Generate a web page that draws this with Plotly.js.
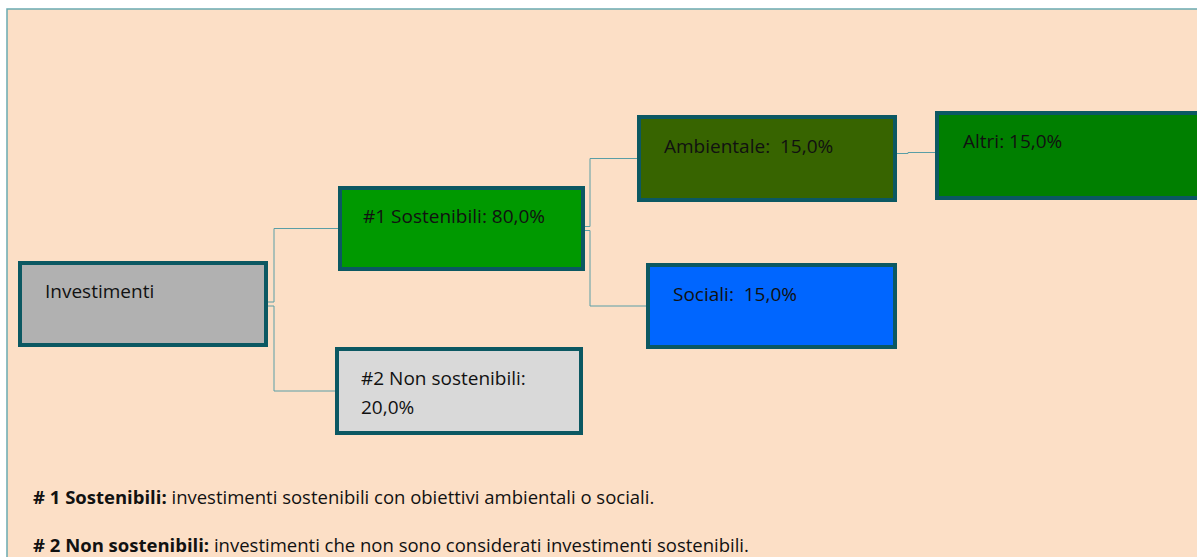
<!DOCTYPE html>
<html>
<head>
<meta charset="utf-8">
<script src="https://cdn.plot.ly/plotly-3.0.1.min.js"></script>
<style>
  html, body { margin: 0; padding: 0; background: #ffffff; }
  #chart { width: 1197px; height: 557px; }
</style>
</head>
<body>
<div id="chart"></div>
<script>
document.addEventListener('DOMContentLoaded', () => {

    // --- Data ---
    const nodeNames = ['Investimenti', '#1 Sostenibili:', '#2 Non sostenibili:', 'Ambientale: ', 'Sociali: ', 'Altri:'];
    const nodeValues = [null, 80.0, 20.0, 15.0, 15.0, 15.0];
    const nodeParents = [-1, 0, 0, 1, 1, 3];
    const noteTitles = ['# 1 Sostenibili:', '# 2 Non sostenibili:'];
    const noteTexts = [
        'investimenti sostenibili con obiettivi ambientali o sociali.',
        'investimenti che non sono considerati investimenti sostenibili.'
    ];

    // --- Layout of the boxes (pixel space) ---
    const boxLeft   = [20, 340, 337, 639, 648, 937];
    const boxRight  = [266, 583, 581, 895, 895, 1199];
    const boxTop    = [263, 188, 349, 117, 265, 113];
    const boxBottom = [345, 269, 433, 200, 347, 198];
    const boxFill   = ['#b1b1b1', '#009900', '#d9d9d9', '#376400', '#0066ff', '#007f00'];
    const textX     = [43, 361, 359, 662, 671, 961];
    const textY     = [291, 216, 378, 146, 294, 141];
    const elbowX    = [null, 274, 274, 590, 590, 908];

    const borderColor = '#0b5862';
    const lineColor = '#5a9ea6';
    const fontFamily = '"Open Sans", Lato, sans-serif';

    const fmt = v => v.toFixed(1).replace('.', ',') + '%';

    const shapes = [];
    const annotations = [];

    // outer frame
    shapes.push({
        type: 'rect', xref: 'x', yref: 'y',
        x0: 7, x1: 1210, y0: 9, y1: 570,
        fillcolor: '#fcdfc6', line: { color: '#6aabb1', width: 1.5 }, layer: 'below'
    });

    // connectors
    nodeParents.forEach((p, i) => {
        if (p < 0) return;
        const up = (i === 1 || i === 3);
        const ys = (boxTop[p] + boxBottom[p]) / 2 + (i === 5 ? -5 : (up ? -2 : 2));
        const yc = (boxTop[i] + boxBottom[i]) / 2 - (i === 5 ? 3 : 0);
        const ex = elbowX[i];
        const path = `M ${boxRight[p]} ${ys} L ${ex} ${ys} L ${ex} ${yc} L ${boxLeft[i]} ${yc}`;
        shapes.push({
            type: 'path', xref: 'x', yref: 'y', path: path,
            line: { color: lineColor, width: 1 }, layer: 'below'
        });
    });

    // boxes
    nodeNames.forEach((name, i) => {
        shapes.push({
            type: 'rect', xref: 'x', yref: 'y',
            x0: boxLeft[i], x1: boxRight[i], y0: boxTop[i], y1: boxBottom[i],
            fillcolor: boxFill[i], line: { color: borderColor, width: 4 }
        });
        const lines = [name];
        if (nodeValues[i] !== null) {
            if (i === 2) lines.push(fmt(nodeValues[i]));
            else lines[0] += ' ' + fmt(nodeValues[i]);
        }
        lines.forEach((ln, k) => {
            annotations.push({
                x: textX[i], y: textY[i] + k * 29, xref: 'x', yref: 'y',
                text: ln, showarrow: false,
                xanchor: 'left', yanchor: 'middle', align: 'left',
                font: { family: fontFamily, size: 19, color: '#111111' }
            });
        });
    });

    // footnotes
    const noteY = [496, 544];
    noteTitles.forEach((t, i) => {
        annotations.push({
            x: 31, y: noteY[i], xref: 'x', yref: 'y',
            text: '<b>' + t + '</b> ' + noteTexts[i], showarrow: false,
            xanchor: 'left', yanchor: 'middle', align: 'left',
            font: { family: fontFamily, size: 18.5, color: '#111111' }
        });
    });

    const layout = {
        width: 1197, height: 557,
        margin: { l: 0, r: 0, t: 0, b: 0, pad: 0 },
        paper_bgcolor: '#ffffff',
        plot_bgcolor: 'rgba(0,0,0,0)',
        showlegend: false,
        xaxis: { range: [0, 1197], visible: false, fixedrange: true },
        yaxis: { range: [557, 0], visible: false, fixedrange: true },
        shapes: shapes,
        annotations: annotations
    };

    Plotly.newPlot('chart', [], layout, { staticPlot: true, displayModeBar: false });
});
</script>
</body>
</html>
